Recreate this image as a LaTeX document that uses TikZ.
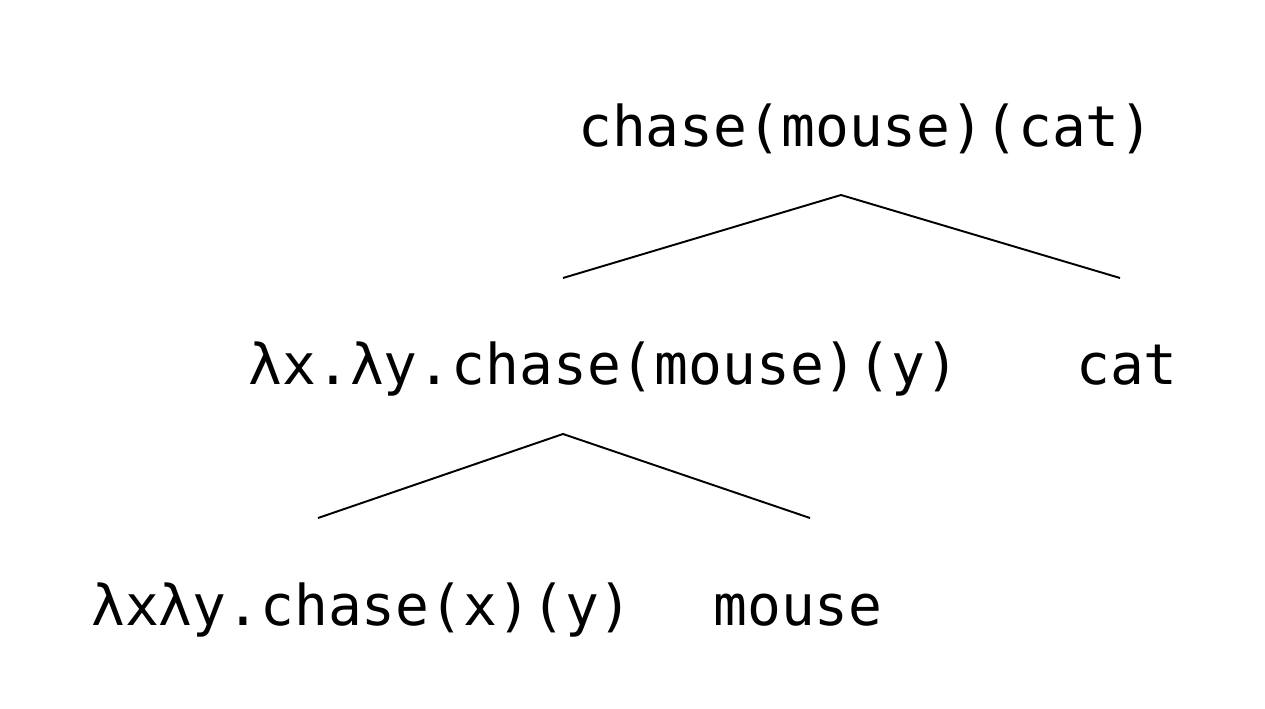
\documentclass[tikz,border=0pt]{standalone}
\usepackage{fontspec}
\setmonofont{DejaVu Sans Mono}
\usepackage{tikz}
\usetikzlibrary{positioning}

\begin{document}
\begin{tikzpicture}[x=0.02cm,y=-0.02cm,
  term/.style={font=\fontsize{32}{38}\selectfont\ttfamily,inner sep=0pt,
    anchor=base},
  branch/.style={line width=1.1pt,black}
]
  \useasboundingbox (0,0) rectangle (1265,709);
  % terms
  \node[term] (root) at (866,147) {chase(mouse)(cat)};
  \node[term] (fun) at (604,385) {λx.λy.chase(mouse)(y)};
  \node[term] (cat) at (1127,385) {cat};
  \node[term] (chase) at (362,625) {λxλy.chase(x)(y)};
  \node[term] (mouse) at (798,625) {mouse};
  % branch points
  \coordinate (top1) at (841,195);
  \coordinate (l1) at (563,278);
  \coordinate (r1) at (1120,278);
  \coordinate (top2) at (563,434);
  \coordinate (l2) at (318,518);
  \coordinate (r2) at (810,518);
  \draw[branch] (l1) -- (top1) -- (r1);
  \draw[branch] (l2) -- (top2) -- (r2);
\end{tikzpicture}
\end{document}
